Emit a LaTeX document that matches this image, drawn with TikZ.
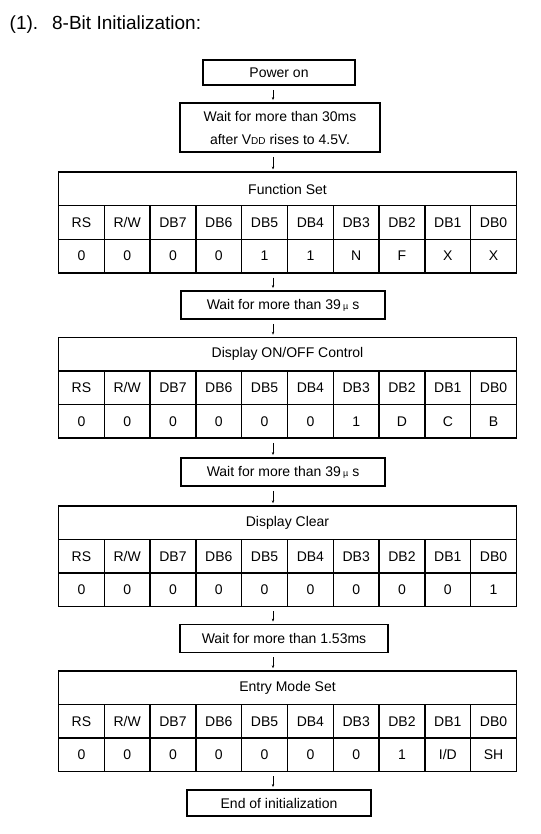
\documentclass[tikz,border=0pt]{standalone}
\usepackage{fontspec}
\setmainfont{Liberation Sans}
\usetikzlibrary{arrows.meta}

\begin{document}
\begin{tikzpicture}[x=1pt,y=-1pt,font=\fontsize{14}{17}\selectfont,
  box/.style={draw, line width=1.8pt, inner sep=0pt, minimum height=28pt},
  cell/.style={draw, line width=1.5pt, inner sep=0pt, minimum width=45.8pt, minimum height=33.5pt},
  arr/.style={-{Stealth[length=3pt,width=2.4pt]}, line width=0.5pt, shorten <=4pt, shorten >=2pt}]
\useasboundingbox (0,0) rectangle (540,834);
\def\bitnames{RS,R/W,DB7,DB6,DB5,DB4,DB3,DB2,DB1,DB0}
\node[anchor=west, inner sep=0pt, font=\fontsize{19}{22}\selectfont] (title) at (9.5,25) {(1).\hspace{14pt}8-Bit Initialization:};
\coordinate (ax) at (273,0);
\node[box, minimum width=152pt, minimum height=25pt] (pwr) at (279,72.5) {Power on};
\node[box, minimum width=200pt, minimum height=49pt, align=center, font=\fontsize{14}{23}\selectfont] (w30) at (280,127.5) {Wait for more than 30ms\\after V{\fontsize{10}{10}\selectfont DD} rises to 4.5V.};
% Function Set
\node[cell, minimum width=458pt] (fs) at (287.5,189) {Function Set};
\foreach \b [count=\c] in \bitnames {\node[cell] (fs-b\c) at (35.6+45.8*\c,222.5) {\b};}
\foreach \v [count=\c] in {0,0,0,0,1,1,N,F,X,X} {\node[cell] (fs-v\c) at (35.6+45.8*\c,256) {\v};}
\node[box, minimum width=204pt] (w39a) at (283,305) {Wait for more than 39\,{\fontsize{9}{9}\selectfont µ} s};
% Display ON/OFF Control
\node[cell, minimum width=458pt] (dc) at (287.5,354.25) {Display ON/OFF Control};
\foreach \b [count=\c] in \bitnames {\node[cell] (dc-b\c) at (35.6+45.8*\c,387.75) {\b};}
\foreach \v [count=\c] in {0,0,0,0,0,0,1,D,C,B} {\node[cell] (dc-v\c) at (35.6+45.8*\c,421.25) {\v};}
\node[box, minimum width=204pt] (w39b) at (283,472) {Wait for more than 39\,{\fontsize{9}{9}\selectfont µ} s};
% Display Clear
\node[cell, minimum width=458pt] (cl) at (287.5,522.75) {Display Clear};
\foreach \b [count=\c] in \bitnames {\node[cell] (cl-b\c) at (35.6+45.8*\c,556.25) {\b};}
\foreach \v [count=\c] in {0,0,0,0,0,0,0,0,0,1} {\node[cell] (cl-v\c) at (35.6+45.8*\c,589.75) {\v};}
\node[box, minimum width=208pt] (w153) at (284,638.5) {Wait for more than 1.53ms};
% Entry Mode Set
\node[cell, minimum width=458pt] (em) at (287.5,687.75) {Entry Mode Set};
\foreach \b [count=\c] in \bitnames {\node[cell] (em-b\c) at (35.6+45.8*\c,721.25) {\b};}
\foreach \v [count=\c] in {0,0,0,0,0,0,0,1,I/D,SH} {\node[cell] (em-v\c) at (35.6+45.8*\c,754.75) {\v};}
\node[box, minimum width=184pt, minimum height=26pt] (fin) at (279,803) {End of initialization};
\foreach \i/\j in {pwr/w30,w30/fs,fs-v5/w39a,w39a/dc,dc-v5/w39b,w39b/cl,cl-v5/w153,w153/em,em-v5/fin}{\draw[arr] (\i.south -| ax) -- (\j.north -| ax);}
\end{tikzpicture}
\end{document}
